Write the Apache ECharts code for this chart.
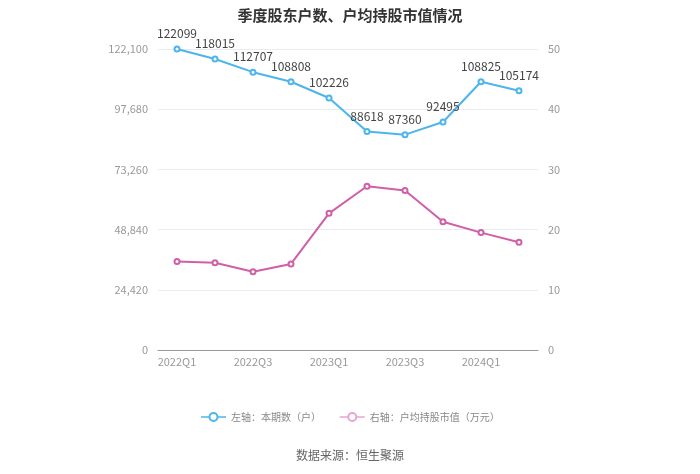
<!DOCTYPE html>
<html><head><meta charset="utf-8">
<script src="https://cdn.jsdelivr.net/npm/echarts@6/dist/echarts.min.js"></script>
<style>html,body{margin:0;padding:0;background:#fff}#c{width:700px;height:474px}</style>
</head><body><div id="c"></div>
<script>
const categories = ['2022Q1','2022Q2','2022Q3','2022Q4','2023Q1','2023Q2','2023Q3','2023Q4','2024Q1','2024Q2'];
const holders = [122099,118015,112707,108808,102226,88618,87360,92495,108825,105174];
const avgValue = [14.7,14.5,13.0,14.3,22.7,27.2,26.5,21.3,19.5,17.9];
const leftTicks = {min:0, max:122100, interval:24420};
const rightTicks = {min:0, max:50, interval:10};
const font = '"Noto Sans CJK SC", "Noto Sans", sans-serif';
const chart = echarts.init(document.getElementById('c'));
chart.setOption({
  backgroundColor:'#fff',
  textStyle:{fontFamily:font},
  title:{text:'季度股东户数、户均持股市值情况', left:'center', top:3,
    textStyle:{fontSize:15, fontWeight:'bold', color:'#333', fontFamily:font}},
  legend:{bottom:47, left:'center', itemWidth:25, itemHeight:10, itemGap:18,
    textStyle:{color:'#888', fontSize:10, fontFamily:font},
    data:[{name:'左轴：本期数（户）', lineStyle:{width:1.5}},
          {name:'右轴：户均持股市值（万元）', lineStyle:{width:1.5, color:'#e6a6d0'}, itemStyle:{color:'#e6a6d0', borderColor:'#e6a6d0'}}]},
  graphic:[{type:'text', left:'center', top:449, style:{text:'数据来源：恒生聚源', fill:'#666', fontSize:12, fontFamily:font}}],
  grid:{left:158, right:162, top:49, bottom:124},
  xAxis:{type:'category', data:categories, boundaryGap:true,
    axisLine:{lineStyle:{color:'#999'}},
    axisTick:{alignWithLabel:true, interval:1, lineStyle:{color:'#999'}},
    axisLabel:{interval:1, color:'#999', fontSize:11, margin:6}},
  yAxis:[
    {type:'value', min:leftTicks.min, max:leftTicks.max, interval:leftTicks.interval,
     axisLine:{show:false}, axisTick:{show:false},
     axisLabel:{color:'#999', fontSize:11, margin:10, formatter:v=>v.toLocaleString('en-US')},
     splitLine:{lineStyle:{color:'#e8ecf2'}}},
    {type:'value', min:rightTicks.min, max:rightTicks.max, interval:rightTicks.interval,
     axisLine:{show:false}, axisTick:{show:false},
     axisLabel:{color:'#999', fontSize:11, margin:10},
     splitLine:{show:false}}
  ],
  series:[
    {name:'左轴：本期数（户）', type:'line', yAxisIndex:0, data:holders,
     symbol:'emptyCircle', symbolSize:5, color:'#4cb5ec',
     lineStyle:{width:2, color:'#4cb5ec'}, itemStyle:{color:'#4cb5ec', borderWidth:1.5},
     label:{show:true, position:'top', color:'#444', fontSize:12, distance:6}},
    {name:'右轴：户均持股市值（万元）', type:'line', yAxisIndex:1, data:avgValue,
     symbol:'emptyCircle', symbolSize:5, color:'#d05fa8',
     lineStyle:{width:2, color:'#d05fa8'}, itemStyle:{color:'#d05fa8', borderWidth:1.5}}
  ]
});
</script></body></html>
